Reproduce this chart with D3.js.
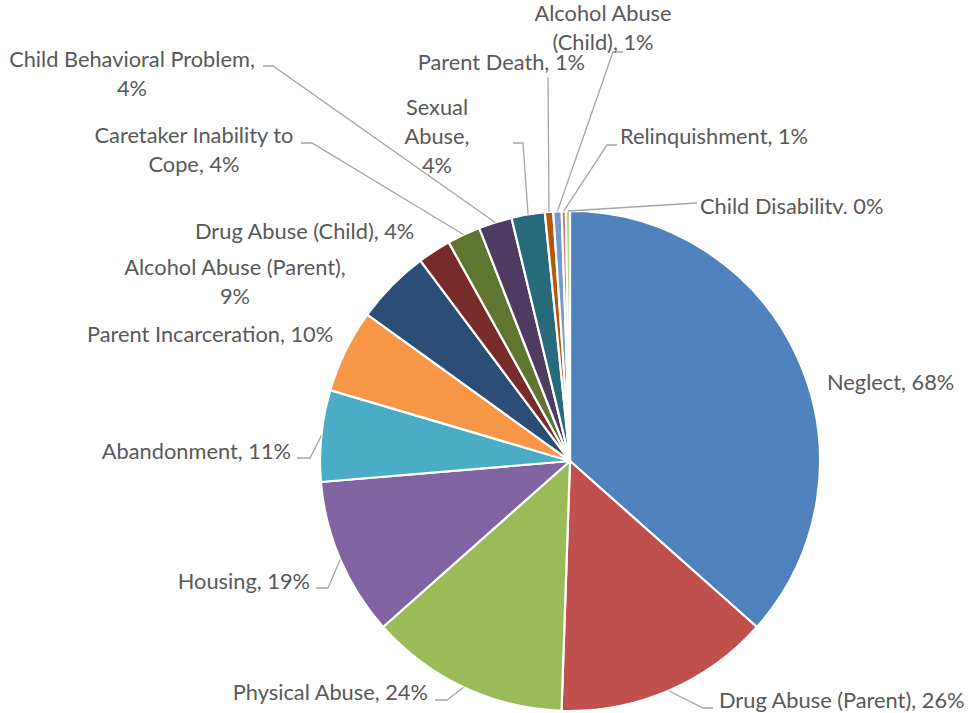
<!DOCTYPE html>
<html>
<head>
<meta charset="utf-8">
<script src="https://cdn.jsdelivr.net/npm/d3@7"></script>
<style>
  html, body { margin: 0; padding: 0; background: #fff; }
  svg { display: block; }
  text { font-family: Lato, "Noto Sans", sans-serif; fill: #595959; }
</style>
</head>
<body>
<svg id="chart" width="971" height="713"></svg>
<script>
// ---- data ----
const categories = [
  "Neglect", "Drug Abuse (Parent)", "Physical Abuse", "Housing", "Abandonment",
  "Parent Incarceration", "Alcohol Abuse (Parent)", "Drug Abuse (Child)",
  "Caretaker Inability to Cope", "Child Behavioral Problem", "Sexual Abuse",
  "Parent Death", "Alcohol Abuse (Child)", "Relinquishment", "Child Disability"
];
const values = [68, 26, 24, 19, 11, 10, 9, 4, 4, 4, 4, 1.0, 1.0, 0.5, 0.49];
const colors = [
  "#4F81BD", "#C0504D", "#9BBB59", "#8064A2", "#4BACC6", "#F79646",
  "#2C4D75", "#772C2A", "#5F7530", "#4D3B62", "#276A7C", "#B65708",
  "#729ACA", "#CD7371", "#AFC97A"
];

// ---- layout (label placement, words per line, leader elbows) ----
const cx = 570, cy = 461, R = 250;
const FS = 21.8, LH = 29;
const labelLayout = {
  "Neglect":                    { x: 827, y: 382, anchor: "start",  lines: null, leader: null },
  "Drug Abuse (Parent)":        { x: 719, y: 700, anchor: "start",  lines: null, leader: [[703, 708], [713, 708]] },
  "Physical Abuse":             { x: 428, y: 692, anchor: "end",    lines: null, leader: [[447, 700], [435, 700]] },
  "Housing":                    { x: 310, y: 581, anchor: "end",    lines: null, leader: [[328, 588], [316, 588]] },
  "Abandonment":                { x: 291, y: 451, anchor: "end",    lines: null, leader: [[310, 458], [297, 458]] },
  "Parent Incarceration":       { x: 87,  y: 334, anchor: "start",  lines: null, leader: null },
  "Alcohol Abuse (Parent)":     { x: 235, y: 267, anchor: "middle", lines: [3, 1], leader: null },
  "Drug Abuse (Child)":         { x: 195, y: 231, anchor: "start",  lines: null, leader: null },
  "Caretaker Inability to Cope":{ x: 194, y: 135, anchor: "middle", lines: [3, 2], leader: [[312, 143], [301, 143]] },
  "Child Behavioral Problem":   { x: 132, y: 59,  anchor: "middle", lines: [3, 1], leader: [[273, 66], [263, 66]] },
  "Sexual Abuse":               { x: 437, y: 107, anchor: "middle", lines: [1, 1, 1], leader: [[523, 143], [513, 143]] },
  "Parent Death":               { x: 585, y: 62,  anchor: "end",    lines: null, leader: [[548, 77]] },
  "Alcohol Abuse (Child)":      { x: 603, y: 13,  anchor: "middle", lines: [2, 2], leader: [[613, 52], [623, 52]] },
  "Relinquishment":             { x: 620, y: 136, anchor: "start",  lines: null, leader: [[607, 145], [617, 145]] },
  "Child Disability":           { x: 700, y: 206, anchor: "start",  lines: null, leader: [[697, 203]], clipBottom: 214 }
};

const data = categories.map((c, i) => ({ category: c, value: values[i], color: colors[i] }));

const svg = d3.select("#chart");
const defs = svg.append("defs");
const g = svg.append("g").attr("transform", `translate(${cx},${cy})`);

const pie = d3.pie().sort(null).value(d => d.value);
const arc = d3.arc().innerRadius(0).outerRadius(R);
const arcs = pie(data);

g.selectAll("path.slice")
  .data(arcs)
  .join("path")
  .attr("class", "slice")
  .attr("d", arc)
  .attr("fill", d => d.data.color)
  .attr("stroke", "#fff")
  .attr("stroke-width", 2.2)
  .attr("stroke-linejoin", "round");

// leader lines
const line = d3.line();
const lg = svg.append("g");
arcs.forEach(a => {
  const lay = labelLayout[a.data.category];
  if (!lay || !lay.leader) return;
  const mid = (a.startAngle + a.endAngle) / 2;
  const start = [cx + R * Math.sin(mid), cy - R * Math.cos(mid)];
  lg.append("path")
    .attr("d", line([start, ...lay.leader]))
    .attr("fill", "none")
    .attr("stroke", "#A6A6A6")
    .attr("stroke-width", 1.3);
});

// labels
const tg = svg.append("g");
arcs.forEach((a, idx) => {
  const lay = labelLayout[a.data.category];
  const label = `${a.data.category}, ${Math.round(a.data.value)}%`;
  let lines = [label];
  if (lay.lines) {
    const words = label.split(" ");
    lines = [];
    let k = 0;
    lay.lines.forEach(n => { lines.push(words.slice(k, k + n).join(" ")); k += n; });
  }
  const t = tg.append("text")
    .attr("text-anchor", lay.anchor)
    .attr("font-size", FS);
  if (lay.clipBottom) {
    const id = "clip" + idx;
    defs.append("clipPath").attr("id", id)
      .append("rect").attr("x", 0).attr("y", 0).attr("width", 971).attr("height", lay.clipBottom);
    t.attr("clip-path", `url(#${id})`);
  }
  lines.forEach((ln, i) => {
    t.append("tspan")
      .attr("x", lay.x)
      .attr("y", lay.y + i * LH)
      .attr("dy", "0.35em")
      .text(ln);
  });
});
</script>
</body>
</html>
